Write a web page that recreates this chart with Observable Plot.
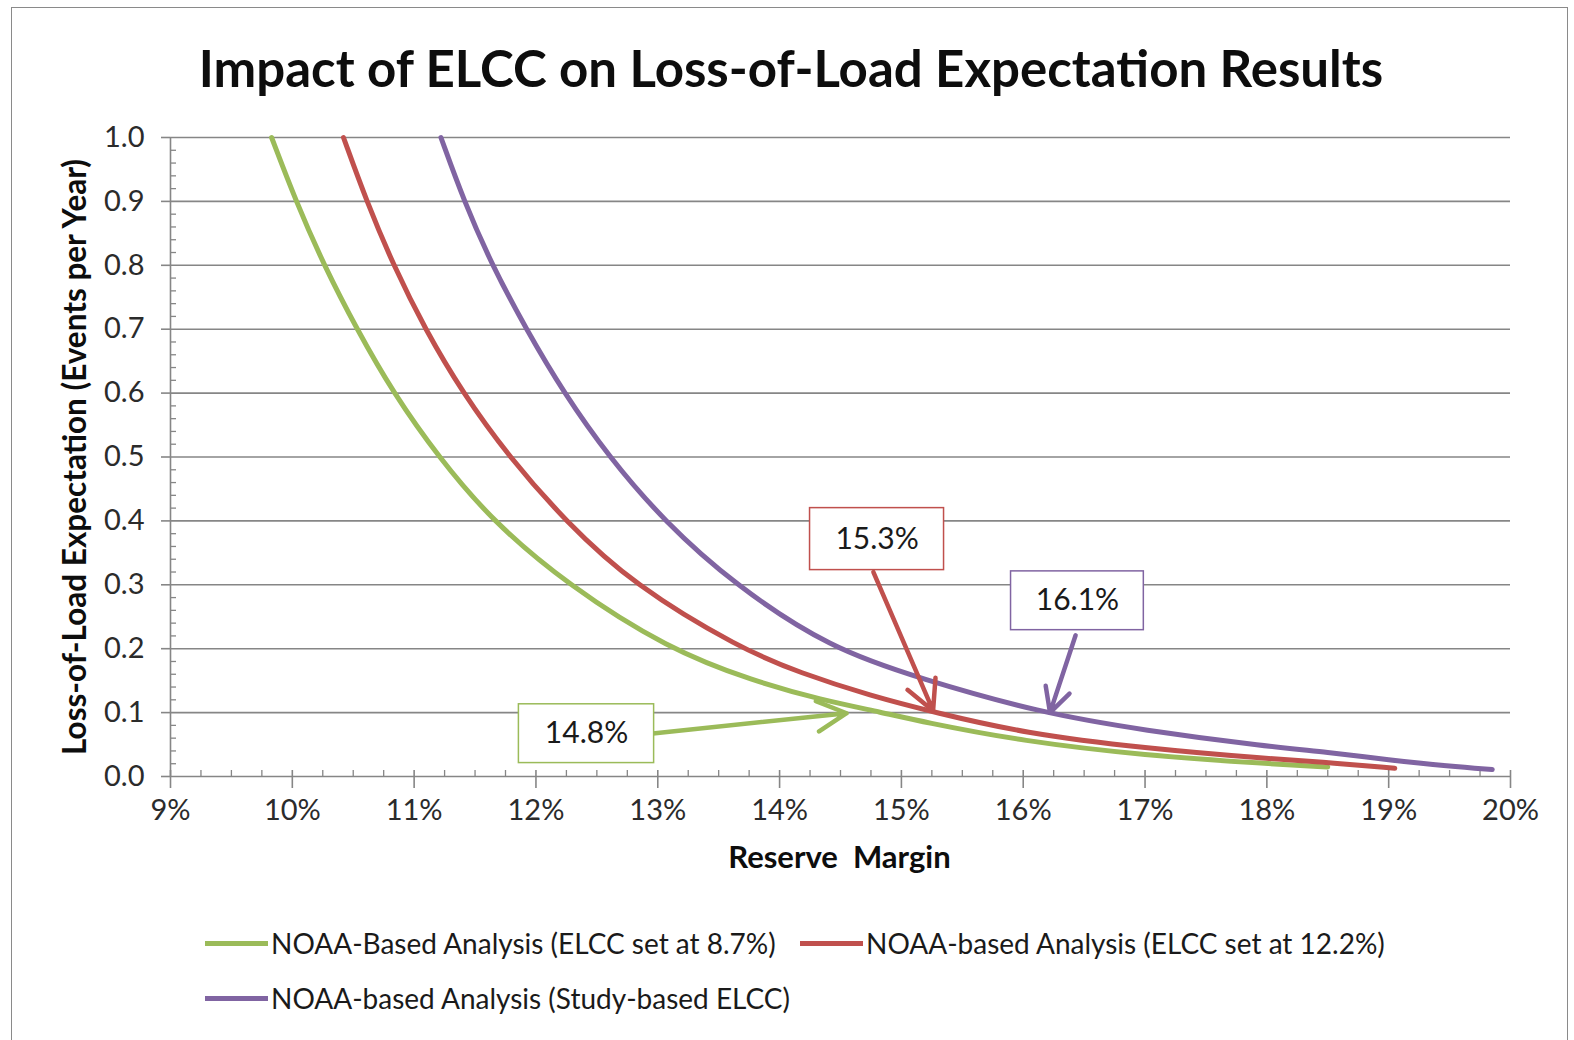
<!DOCTYPE html>
<html>
<head>
<meta charset="utf-8">
<script src="https://cdn.jsdelivr.net/npm/d3@7"></script>
<script src="https://cdn.jsdelivr.net/npm/@observablehq/plot@0.6"></script>
<style>
  html, body { margin: 0; padding: 0; background: #fff; }
  #frame { position: relative; width: 1574px; height: 1040px; overflow: hidden; font-family: Lato, "Open Sans", sans-serif; }
  #border { position: absolute; left: 11px; top: 7px; width: 1557px; height: 1040px; border: 1.5px solid #8a8a8a; box-sizing: border-box; }
  #title { position: absolute; left: 0; width: 1582px; top: 36px; text-align: center; font-weight: bold; font-size: 51px; color: #0d0d0d; line-height: 64px; }
  #chart { position: absolute; left: 0; top: 110px; }
  .leg { position: absolute; font-size: 28px; color: #1a1a1a; display: flex; align-items: center; white-space: nowrap; }
  .sw { display: inline-block; width: 63px; height: 5px; margin-right: 3px; }
</style>
</head>
<body>
<div id="frame">
  <div id="border"></div>
  <div id="title">Impact of ELCC on Loss-of-Load Expectation Results</div>
  <div id="chart"></div>
  <div id="legend"></div>
</div>
<script>
// ---- data ----
const seriesNames = [
  "NOAA-Based Analysis (ELCC set at 8.7%)",
  "NOAA-based Analysis (ELCC set at 12.2%)",
  "NOAA-based Analysis (Study-based ELCC)"
];
const seriesColors = ["#9bbb59", "#c0504d", "#8064a2"];

const greenX = [9.83, 10.03, 10.26, 10.53, 10.83, 11.2, 11.64, 12.26, 13.08, 13.79, 14.34, 14.85, 15.16, 16, 17, 18, 18.5];
const greenY = [1.0, 0.9, 0.8, 0.7, 0.6, 0.5, 0.4, 0.3, 0.2, 0.149, 0.12, 0.1, 0.086, 0.055, 0.033, 0.02, 0.015];

const redX = [10.42, 10.61, 10.83, 11.09, 11.4, 11.78, 12.24, 12.8, 13.68, 14.17, 14.75, 15.28, 16, 17, 18, 18.5, 19.05];
const redY = [1.0, 0.9, 0.8, 0.7, 0.6, 0.5, 0.4, 0.3, 0.2, 0.162, 0.126, 0.1, 0.068, 0.044, 0.028, 0.022, 0.013];

const purpleX = [11.22, 11.41, 11.64, 11.92, 12.23, 12.6, 13.05, 13.63, 14.42, 15.16, 16.13, 17, 18, 18.5, 19, 19.5, 19.85];
const purpleY = [1.0, 0.9, 0.8, 0.7, 0.6, 0.5, 0.4, 0.3, 0.2, 0.153, 0.1, 0.072, 0.047, 0.038, 0.026, 0.016, 0.011];

const xTicks = [9, 10, 11, 12, 13, 14, 15, 16, 17, 18, 19, 20];
const yTicks = [0, 0.1, 0.2, 0.3, 0.4, 0.5, 0.6, 0.7, 0.8, 0.9, 1.0];

// annotation labels: value, point on curve, label box (data coords)
const annLabels = ["14.8%", "15.3%", "16.1%"];
const annTipX = [14.55, 15.26, 16.22];
const annTipY = [0.099, 0.103, 0.10];
const annTailX = [12.94, 14.77, 16.43];
const annTailY = [0.067, 0.32, 0.221];
const annBoxX1 = [11.86, 14.25, 15.90];
const annBoxX2 = [12.97, 15.35, 16.99];
const annBoxY1 = [0.021, 0.323, 0.229];
const annBoxY2 = [0.113, 0.420, 0.321];

// ---- build tables ----
const rows = [];
[[greenX, greenY], [redX, redY], [purpleX, purpleY]].forEach(([xs, ys], i) => {
  xs.forEach((x, j) => rows.push({series: seriesNames[i], x, y: ys[j]}));
});
const ann = annLabels.map((label, i) => ({
  label, color: seriesColors[i],
  tipX: annTipX[i], tipY: annTipY[i], tailX: annTailX[i], tailY: annTailY[i],
  x1: annBoxX1[i], x2: annBoxX2[i], y1: annBoxY1[i], y2: annBoxY2[i]
}));
const xMinor = d3.range(9, 20.001, 0.25).filter(v => Math.abs(v - Math.round(v)) > 1e-6);
const yMinor = d3.range(0, 1.0001, 0.02).map(v => +v.toFixed(2)).filter(v => Math.abs(v * 10 - Math.round(v * 10)) > 1e-6);

const grey = "#868686";
const font = "Lato, 'Open Sans', sans-serif";

const chart = Plot.plot({
  width: 1574,
  height: 775,
  marginLeft: 170,
  marginRight: 64,
  marginTop: 27,
  marginBottom: 109,
  style: {fontFamily: font, background: "transparent", overflow: "visible"},
  x: {domain: [9, 20]},
  y: {domain: [0, 1]},
  color: {domain: seriesNames, range: seriesColors},
  marks: [
    Plot.gridY(yTicks.filter(d => d > 0), {stroke: grey, strokeOpacity: 1, strokeWidth: 1.6}),
    Plot.ruleY([0], {stroke: grey, strokeWidth: 1.6}),
    Plot.ruleX([9], {stroke: grey, strokeWidth: 1.6}),
    // x axis: major ticks crossing, labels
    Plot.axisX({ticks: xTicks, tickSize: 18, dy: -6, tickPadding: 11, tickFormat: d => d + "%",
      fontSize: 29, color: "#2b2b2b", stroke: grey, strokeWidth: 1.6, label: null}),
    Plot.axisX({ticks: xMinor, tickSize: 6, dy: -6, text: null, stroke: grey, strokeWidth: 1.3, label: null}),
    // y axis
    Plot.axisY({ticks: yTicks, tickSize: 9, tickPadding: 17, tickFormat: d3.format(".1f"),
      fontSize: 29, color: "#2b2b2b", stroke: grey, strokeWidth: 1.6, label: null}),
    Plot.axisY({ticks: yMinor, tickSize: 6, dx: 6, text: null, stroke: grey, strokeWidth: 1.3, label: null}),
    // axis titles
    Plot.text(["Reserve  Margin"], {frameAnchor: "bottom", dy: 91, fontSize: 31, fontWeight: "bold", fill: "#0d0d0d", dx: -1}),
    Plot.text(["Loss-of-Load Expectation (Events per Year)"], {frameAnchor: "left", dx: -95, rotate: -90, textAnchor: "middle", fontSize: 31.5, fontWeight: "bold", fill: "#0d0d0d"}),
    // curves
    Plot.line(rows, {x: "x", y: "y", z: "series", stroke: "series", strokeWidth: 5, curve: "basis"}),
    // annotations
    Plot.arrow(ann, {x1: "tailX", y1: "tailY", x2: "tipX", y2: "tipY", stroke: "color", strokeWidth: 4.5, headLength: 11, headAngle: 55}),
    Plot.rect(ann, {x1: "x1", x2: "x2", y1: "y1", y2: "y2", fill: "white", stroke: "color", strokeWidth: 1.5}),
    Plot.text(ann, {x: d => (d.x1 + d.x2) / 2, y: d => (d.y1 + d.y2) / 2, text: "label", fontSize: 30, fill: "#1a1a1a"})
  ]
});
document.getElementById("chart").appendChild(chart);

// legend
const legend = document.getElementById("legend");
const legPos = [[205, 942], [800, 942], [205, 997]];
seriesNames.forEach((name, i) => {
  const el = document.createElement("div");
  el.className = "leg";
  el.style.left = legPos[i][0] + "px";
  el.style.top = (legPos[i][1] - 16) + "px";
  el.innerHTML = `<span class="sw" style="background:${seriesColors[i]}"></span><span>${name}</span>`;
  legend.appendChild(el);
});
</script>
</body>
</html>
